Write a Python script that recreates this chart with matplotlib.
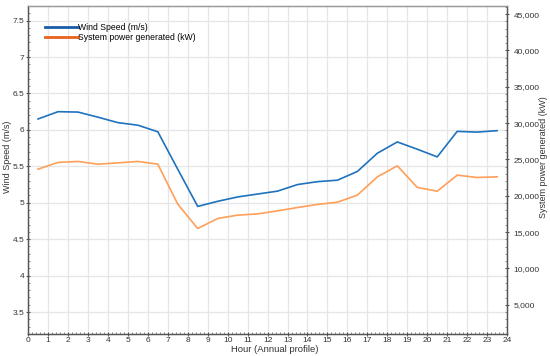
import matplotlib
matplotlib.use("Agg")
import matplotlib.pyplot as plt
from matplotlib.ticker import MultipleLocator, FuncFormatter
from matplotlib.lines import Line2D

plt.rcParams['font.family'] = ['Liberation Sans', 'DejaVu Sans']

hours = [h + 0.5 for h in range(24)]
wind_speed = [6.15, 6.25, 6.245, 6.175, 6.10, 6.065, 5.975, 5.46, 4.95, 5.02,
              5.08, 5.12, 5.16, 5.25, 5.29, 5.31, 5.43, 5.68, 5.835, 5.735,
              5.63, 5.98, 5.97, 5.99]
power_kw = [23665, 24590, 24725, 24350, 24530, 24725, 24350, 18850, 15500, 16880,
            17340, 17510, 17930, 18390, 18810, 19120, 20090, 22610, 24120, 21150,
            20640, 22840, 22520, 22610]

blue = "#1f72bd"
orange_line = "#ff9f59"
orange_leg = "#e8621c"
blue_leg = "#1a5ca8"

fig = plt.figure(figsize=(5.5, 3.56), dpi=100)
ax = fig.add_axes([0.051, 0.062, 0.871, 0.921])
ax2 = ax.twinx()

ax.plot(hours, wind_speed, color=blue, lw=1.2)
ax2.plot(hours, power_kw, color=orange_line, lw=1.2)

ax.set_xlim(0, 24)
ax.set_ylim(3.2, 7.7)
ax2.set_ylim(1000, 46100)

ax.xaxis.set_major_locator(MultipleLocator(1))
ax.xaxis.set_minor_locator(MultipleLocator(0.2))
ax.yaxis.set_major_locator(MultipleLocator(0.5))
ax.yaxis.set_minor_locator(MultipleLocator(0.1))
ax2.yaxis.set_major_locator(MultipleLocator(5000))
ax2.yaxis.set_minor_locator(MultipleLocator(1000))
ax2.yaxis.set_major_formatter(FuncFormatter(lambda v, p: f"{int(v):,}"))
ax.yaxis.set_major_formatter(FuncFormatter(lambda v, p: f"{v:g}"))

ax.grid(True, which='major', color='#e6e6e6', lw=0.9)
ax.set_axisbelow(True)

for a in (ax, ax2):
    for s in a.spines.values():
        s.set_color('#555555')
        s.set_linewidth(0.9)
    a.spines['top'].set_color('#999999')
    a.tick_params(which='major', length=3, width=0.8, color='#555555',
                  labelsize=6, labelcolor='#333333', direction='inout')
    a.tick_params(which='minor', length=1.5, width=0.6, color='#777777', direction='in')

ax.tick_params(axis='x', pad=1)
ax.tick_params(axis='y', pad=1)
ax2.tick_params(axis='y', pad=3)

ax.set_xlabel("Hour (Annual profile)", fontsize=6.8, color='#333333')
ax.xaxis.set_label_coords(0.516, -0.033)
ax.set_ylabel("Wind Speed (m/s)", fontsize=6.5, color='#333333')
ax.yaxis.set_label_coords(-0.034, 0.54)
ax2.set_ylabel("System power generated (kW)", fontsize=6.5, color='#333333',
               rotation=90)
ax2.yaxis.set_label_coords(1.066, 0.54)

handles = [Line2D([], [], color=blue_leg, lw=2),
           Line2D([], [], color=orange_leg, lw=2)]
ax.legend(handles, ["Wind Speed (m/s)", "System power generated (kW)"],
          loc='upper left', bbox_to_anchor=(0.025, 0.965), frameon=False,
          fontsize=6.2, handlelength=3.8, handletextpad=0.0, labelspacing=0.1,
          borderaxespad=0.2)

fig.savefig("out.png", dpi=100)
